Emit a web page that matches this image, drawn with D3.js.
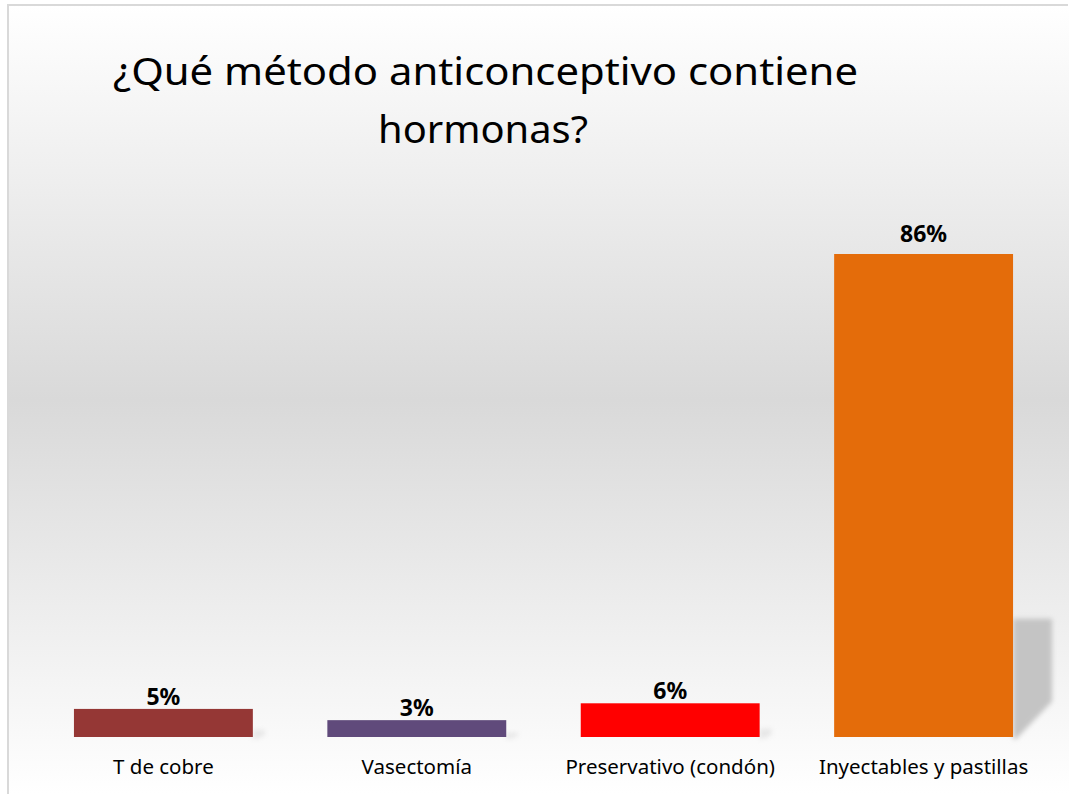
<!DOCTYPE html>
<html><head><meta charset="utf-8">
<script src="https://cdn.jsdelivr.net/npm/d3@7"></script>
<style>html,body{margin:0;padding:0;background:#fff;}svg{display:block;}</style>
</head><body>
<svg id="chart" width="1069" height="794"></svg>
<script>
const categories = ["T de cobre", "Vasectomía", "Preservativo (condón)", "Inyectables y pastillas"];
const values = [5, 3, 6, 86];
const colors = ["#953735", "#604a7b", "#ff0000", "#e46c0a"];
const titleLines = ["¿Qué método anticonceptivo contiene", "hormonas?"];

const W = 1069, H = 794;
const svg = d3.select("#chart");
const defs = svg.append("defs");
const grad = defs.append("linearGradient").attr("id","bg").attr("x1",0).attr("y1",0).attr("x2",0).attr("y2",1);
grad.append("stop").attr("offset","0%").attr("stop-color","#ffffff");
grad.append("stop").attr("offset","50%").attr("stop-color","#d9d9d9");
grad.append("stop").attr("offset","100%").attr("stop-color","#ffffff");
const blur = defs.append("filter").attr("id","blur").attr("x","-50%").attr("y","-50%").attr("width","200%").attr("height","200%");
blur.append("feGaussianBlur").attr("stdDeviation",2.5);

svg.append("rect").attr("x",0).attr("y",0).attr("width",W).attr("height",H).attr("fill","#fff");
svg.append("rect").attr("x",8).attr("y",5).attr("width",W-8).attr("height",H-5).attr("fill","url(#bg)");
svg.append("path").attr("d",`M8,${H} L8,5 L${W-1},5`).attr("fill","none").attr("stroke","#d9d9d9").attr("stroke-width",2);

const baseline = 737;
const x = d3.scaleBand().domain(categories).range([36.7, 1050.3]).paddingInner(0.294).paddingOuter(0.147);
const y = d3.scaleLinear().domain([0, 86]).range([baseline, 254]);

const g = svg.append("g");
g.selectAll("path.shadow").data(values).join("path")
  .attr("class","shadow")
  .attr("filter","url(#blur)")
  .attr("fill","#c4c4c4")
  .attr("opacity",(d)=> d > 20 ? 1 : 0.35)
  .attr("d",(d,i)=>{
    const x0 = x(categories[i]) + x.bandwidth();
    const h = (baseline - y(d)) * 0.245;
    const w = d > 20 ? 39 : 12;
    const top = baseline - h;
    return `M${x0},${top} L${x0+w},${top} L${x0+w},${baseline-h*0.3} L${x0+3},${baseline+2} L${x0},${baseline+2} Z`;
  });

g.selectAll("rect.bar").data(values).join("rect")
  .attr("class","bar")
  .attr("x",(d,i)=>x(categories[i]))
  .attr("y",d=>y(d))
  .attr("width",x.bandwidth())
  .attr("height",d=>baseline-y(d))
  .attr("fill",(d,i)=>colors[i]);

g.selectAll("text.val").data(values).join("text")
  .attr("class","val")
  .attr("x",(d,i)=>x(categories[i])+x.bandwidth()/2)
  .attr("y",d=>y(d)-(d > 20 ? 12 : 4))
  .attr("text-anchor","middle")
  .attr("font-family","'Noto Sans', 'Open Sans', sans-serif")
  .attr("font-weight","bold")
  .attr("font-size",23)
  .attr("fill","#000")
  .text(d=>d+"%");

g.selectAll("text.cat").data(categories).join("text")
  .attr("class","cat")
  .attr("x",d=>x(d)+x.bandwidth()/2)
  .attr("y",774)
  .attr("text-anchor","middle")
  .attr("font-family","'Noto Sans', 'Open Sans', sans-serif")
  .attr("font-size",20.5)
  .attr("fill","#000")
  .text(d=>d);

const title = svg.append("g");
title.append("text").attr("x",113).attr("y",85)
  .attr("font-family","'Noto Sans', 'Open Sans', sans-serif").attr("font-size",39)
  .attr("textLength",745).attr("lengthAdjust","spacingAndGlyphs")
  .attr("fill","#000").text(titleLines[0]);
title.append("text").attr("x",378).attr("y",143)
  .attr("font-family","'Noto Sans', 'Open Sans', sans-serif").attr("font-size",39)
  .attr("textLength",210).attr("lengthAdjust","spacingAndGlyphs")
  .attr("fill","#000").text(titleLines[1]);
</script>
</body></html>
